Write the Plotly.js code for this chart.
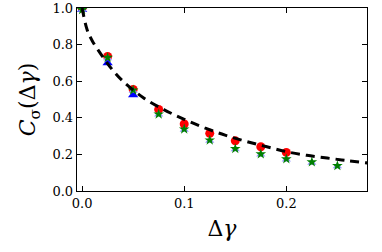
<!DOCTYPE html>
<html><head><meta charset="utf-8">
<script src="https://cdn.plot.ly/plotly-3.0.1.min.js"></script>
<style>html,body{margin:0;padding:0;background:#fff}</style>
</head><body>
<div id="chart" style="width:382px;height:252px"></div>
<script>
// fitted curve
const curveX = [0, 0.005, 0.01, 0.02, 0.03, 0.04, 0.06, 0.08, 0.1, 0.12, 0.14, 0.16, 0.18, 0.2, 0.22, 0.24, 0.26, 0.28];
const curveY = [1.0, 0.88, 0.82, 0.735, 0.66, 0.6, 0.51, 0.445, 0.392, 0.345, 0.305, 0.272, 0.243, 0.215, 0.195, 0.18, 0.166, 0.153];
// red circles
const redX = [0, 0.025, 0.05, 0.075, 0.1, 0.125, 0.15, 0.175, 0.2];
const redY = [1.0, 0.735, 0.555, 0.446, 0.366, 0.315, 0.274, 0.242, 0.211];
// dark blue triangles
const blueX = [0, 0.025, 0.05];
const blueY = [0.99, 0.70, 0.524];
// light blue triangles
const lblueX = [0, 0.025, 0.05, 0.075, 0.1, 0.125, 0.15, 0.175, 0.2, 0.225, 0.25];
const lblueY = [0.99, 0.725, 0.548, 0.418, 0.335, 0.275, 0.228, 0.199, 0.172, 0.155, 0.135];
// green stars
const starX = [0, 0.025, 0.05, 0.075, 0.1, 0.125, 0.15, 0.175, 0.2, 0.225, 0.25];
const starY = [0.99, 0.729, 0.551, 0.42, 0.338, 0.278, 0.231, 0.202, 0.175, 0.158, 0.138];

const traces = [
  {x: redX, y: redY, mode: 'markers', type: 'scatter',
   marker: {symbol: 'circle', size: 9, color: '#ff0000', line: {width: 0}}},
  {x: blueX, y: blueY, mode: 'markers', type: 'scatter',
   marker: {symbol: 'triangle-up', size: 9, color: '#0000ff', line: {width: 0}}},
  {x: lblueX, y: lblueY, mode: 'markers', type: 'scatter',
   marker: {symbol: 'triangle-up', size: 8, color: '#9999ff', line: {width: 0}}},
  {x: starX, y: starY, mode: 'markers', type: 'scatter',
   marker: {symbol: 'star', size: 8, color: '#008000', line: {width: 0}}},
  {x: curveX, y: curveY, mode: 'lines', type: 'scatter',
   line: {color: '#000000', width: 3, dash: '9px,6px', shape: 'spline'}}
];

const axisCommon = {
  showgrid: false, zeroline: false, showline: true, linecolor: '#000', linewidth: 1.3,
  mirror: 'ticks', ticks: 'inside', ticklen: 5, tickcolor: '#000', tickwidth: 1,
  tickfont: {family: 'DejaVu Serif', size: 13, color: '#000'}
};

const layout = {
  width: 382, height: 252,
  margin: {l: 77, r: 15, t: 8, b: 61},
  paper_bgcolor: '#fff', plot_bgcolor: '#fff',
  showlegend: false,
  xaxis: Object.assign({}, axisCommon, {
    range: [-0.005, 0.279], tickvals: [0, 0.1, 0.2], ticktext: ['0.0', '0.1', '0.2'],
    title: {text: 'Δ<i>γ</i>', font: {family: 'DejaVu Serif', size: 22, color: '#000'}, standoff: 10}
  }),
  yaxis: Object.assign({}, axisCommon, {
    range: [0, 1], tickvals: [0, 0.2, 0.4, 0.6, 0.8, 1.0],
    ticktext: ['0.0', '0.2', '0.4', '0.6', '0.8', '1.0'],
    title: {text: '<i>C</i><sub>σ</sub>(Δ<i>γ</i>)', font: {family: 'DejaVu Serif', size: 22, color: '#000'}, standoff: 10}
  })
};

Plotly.newPlot('chart', traces, layout, {displayModeBar: false, staticPlot: true});
</script>
</body></html>
